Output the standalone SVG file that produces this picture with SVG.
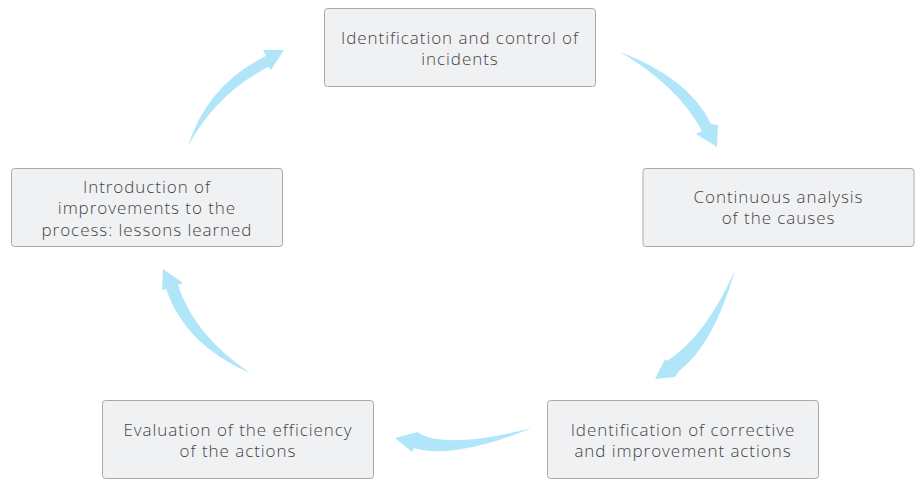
<svg xmlns="http://www.w3.org/2000/svg" width="919" height="480" viewBox="0 0 919 480">
<style>
.box{fill:#f0f1f3;stroke:#a9a9a9;stroke-width:1}
.t{font-family:"Open Sans","Liberation Sans",sans-serif;font-size:17px;font-weight:300;letter-spacing:0.95px;fill:#444;text-anchor:middle}
.arr{fill:#b0e5fa;stroke:none}
</style>
<rect width="919" height="480" fill="#fff"/>
<g id="connectors">
<path class="arr" d="M620,52 Q689,78 711,124 L718,125 L717,147 L696,134 L702,131 Q678,86 620,52 Z"/>
<path class="arr" d="M735,270 Q714,344 679,371 L675,377 L655,379 L665,359 L667,361 Q706,336 735,270 Z"/>
<path class="arr" d="M532,428 Q450,449 420,434 L418,432 L395,438 L412,452 L414,448 Q453,460 532,428 Z"/>
<path class="arr" d="M250,373 Q194,335 178,285 L183,283 L163,269 L162,290 L166,289 Q185,345 250,373 Z"/>
<path class="arr" d="M188,146 Q208,84 266,56 L263,50 L284,50 L271,70 L268,67 Q216,94 188,146 Z"/>
</g>
<g id="n1">
<rect class="box" x="324.5" y="8.5" width="271" height="78" rx="3"/>
<text class="t" x="460" y="44">Identification and control of</text>
<text class="t" x="460" y="65">incidents</text>
</g>
<g id="n2">
<rect class="box" x="643" y="168.5" width="271" height="78" rx="3"/>
<text class="t" x="778.5" y="203">Continuous analysis</text>
<text class="t" x="778.5" y="224">of the causes</text>
</g>
<g id="n3">
<rect class="box" x="547.5" y="400.5" width="271" height="78" rx="3"/>
<text class="t" x="683" y="436">Identification of corrective</text>
<text class="t" x="683" y="457">and improvement actions</text>
</g>
<g id="n4">
<rect class="box" x="102.5" y="400.5" width="271" height="78" rx="3"/>
<text class="t" x="238" y="436">Evaluation of the efficiency</text>
<text class="t" x="238" y="457">of the actions</text>
</g>
<g id="n5">
<rect class="box" x="11.5" y="168.5" width="271" height="78" rx="3"/>
<text class="t" x="147" y="193">Introduction of</text>
<text class="t" x="147" y="214">improvements to the</text>
<text class="t" x="147" y="236">process: lessons learned</text>
</g>
</svg>
